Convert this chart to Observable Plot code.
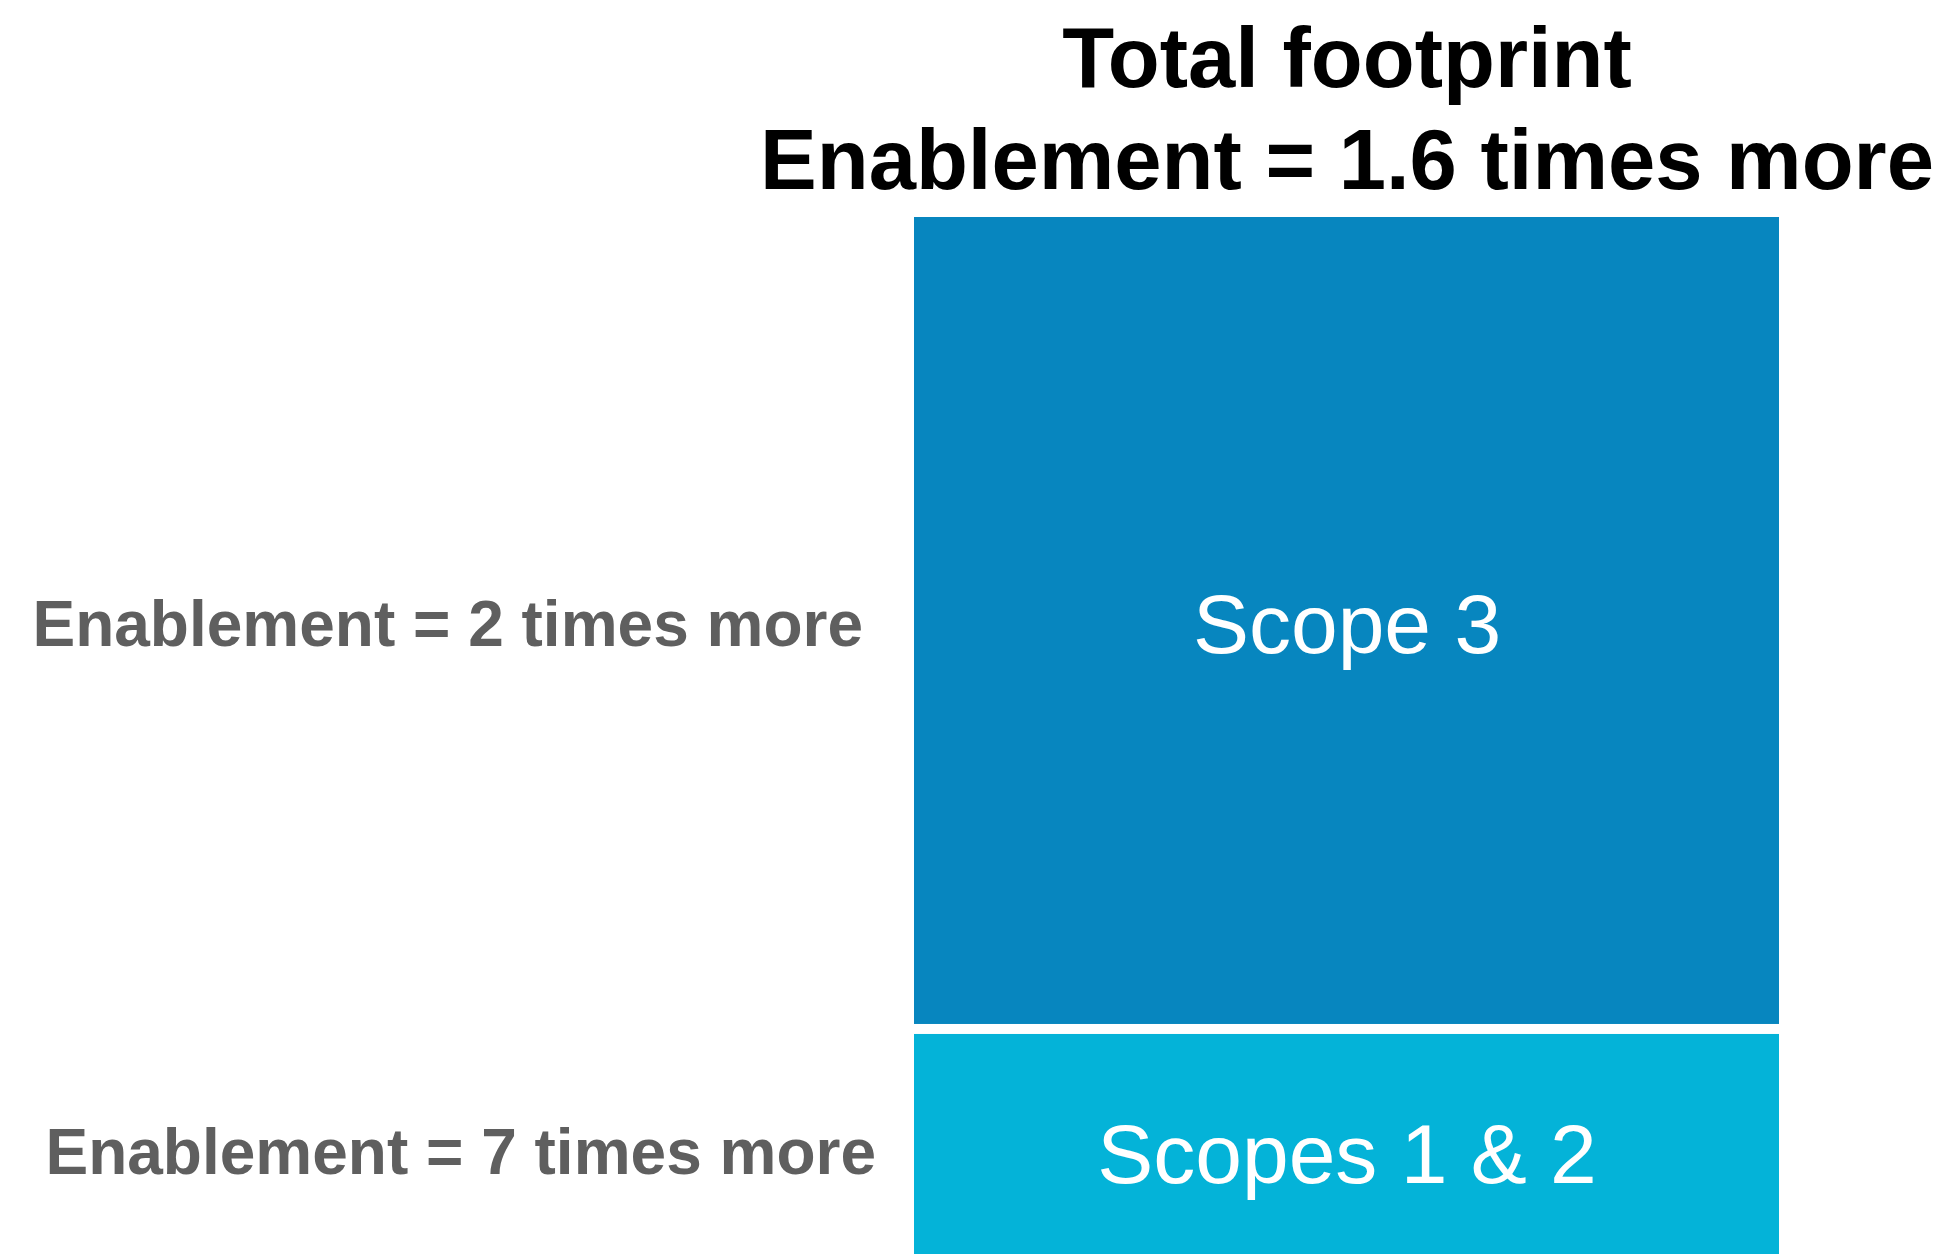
<!DOCTYPE html>
<html><head><meta charset="utf-8">
<script src="https://cdn.jsdelivr.net/npm/d3@7"></script>
<script src="https://cdn.jsdelivr.net/npm/@observablehq/plot@0.6"></script>
<style>html,body{margin:0;padding:0;background:#fff;overflow:hidden} svg{display:block}</style>
</head><body><div id="chart"></div>
<script>
const category = "Total footprint";
const segments = ["Scopes 1 & 2", "Scope 3"];
const shares = [23, 77];
const enablementNotes = ["Enablement = 7 times more", "Enablement = 2 times more"];
const titleLines = ["Total footprint", "Enablement = 1.6 times more"];
const colors = ["#04b3d8", "#0786bf"];

const data = segments.map((s, i) => ({category, segment: s, share: shares[i], note: enablementNotes[i]}));
const FONT = 'Arial, "Liberation Sans", sans-serif';
const noteStyle = {x: "category", y: "share", fill: "#5f5f5f", fontWeight: "bold", fontSize: 64, textAnchor: "end"};

const chart = Plot.plot({
  width: 1948, height: 1254, margin: 0,
  style: {fontFamily: FONT, background: "#fff", overflow: "hidden"},
  x: {domain: [category], range: [914, 1779], padding: 0, axis: null},
  y: {domain: [0, 100], range: [1278, 217], axis: null},
  color: {domain: segments, range: colors},
  marks: [
    Plot.barY(data, {x: "category", y: "share", fill: "segment", insetBottom: 10}),
    Plot.text(data, Plot.stackY({x: "category", y: "share", text: "segment", fill: "white", fontSize: 84})),
    Plot.text(data, Plot.stackY({...noteStyle, text: (d) => d.segment === "Scope 3" ? d.note : null, dx: -484})),
    Plot.text(data, Plot.stackY({...noteStyle, text: (d) => d.segment !== "Scope 3" ? d.note : null, dx: -471, dy: -3})),
    Plot.text([titleLines.join("\n")], {x: () => category, frameAnchor: "top", lineAnchor: "top", fontSize: 85, fontWeight: "bold", fill: "black", lineHeight: 1.2, dy: 14})
  ]
});
document.getElementById("chart").appendChild(chart);
</script>
</body></html>
